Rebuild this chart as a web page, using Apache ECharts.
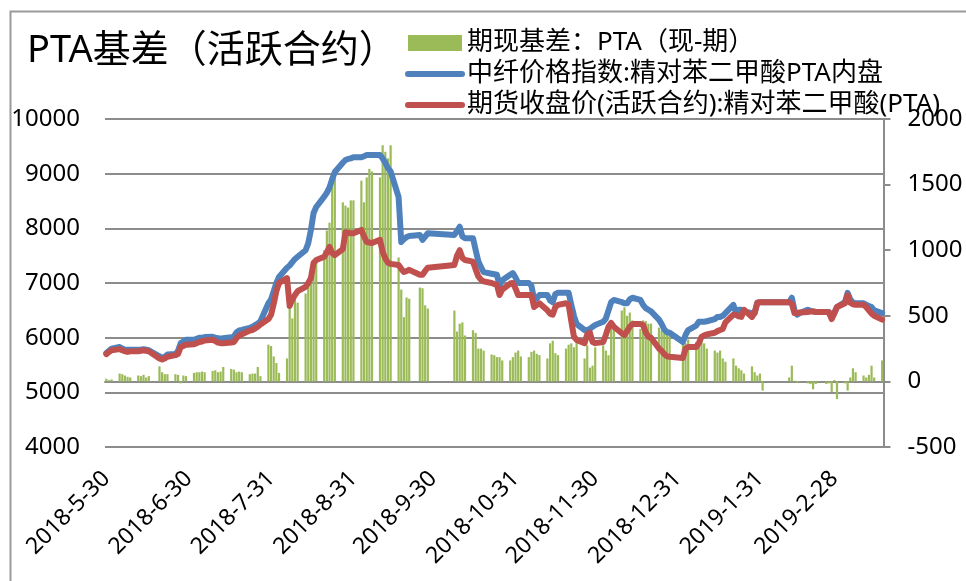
<!DOCTYPE html>
<html>
<head>
<meta charset="utf-8">
<script src="https://cdn.jsdelivr.net/npm/echarts@6/dist/echarts.min.js"></script>
<style>
html,body{margin:0;padding:0;background:#fff;}
#c{width:966px;height:581px;}
</style>
</head>
<body>
<div id="c"></div>
<script>
// ---- data ----
const tradeDates = [
'2018-5-30','2018-5-31','2018-6-1',
'2018-6-4','2018-6-5','2018-6-6','2018-6-7','2018-6-8',
'2018-6-11','2018-6-12','2018-6-13','2018-6-14','2018-6-15',
'2018-6-19','2018-6-20','2018-6-21','2018-6-22',
'2018-6-25','2018-6-26','2018-6-27','2018-6-28','2018-6-29',
'2018-7-2','2018-7-3','2018-7-4','2018-7-5','2018-7-6',
'2018-7-9','2018-7-10','2018-7-11','2018-7-12','2018-7-13',
'2018-7-16','2018-7-17','2018-7-18','2018-7-19','2018-7-20',
'2018-7-23','2018-7-24','2018-7-25','2018-7-26','2018-7-27',
'2018-7-30','2018-7-31','2018-8-1','2018-8-2','2018-8-3',
'2018-8-6','2018-8-7','2018-8-8','2018-8-9','2018-8-10',
'2018-8-13','2018-8-14','2018-8-15','2018-8-16','2018-8-17',
'2018-8-20','2018-8-21','2018-8-22','2018-8-23','2018-8-24',
'2018-8-27','2018-8-28','2018-8-29','2018-8-30','2018-8-31',
'2018-9-3','2018-9-4','2018-9-5','2018-9-6','2018-9-7',
'2018-9-10','2018-9-11','2018-9-12','2018-9-13','2018-9-14',
'2018-9-17','2018-9-18','2018-9-19','2018-9-20','2018-9-21',
'2018-9-25','2018-9-26','2018-9-27','2018-9-28',
'2018-10-8','2018-10-9','2018-10-10','2018-10-11','2018-10-12',
'2018-10-15','2018-10-16','2018-10-17','2018-10-18','2018-10-19',
'2018-10-22','2018-10-23','2018-10-24','2018-10-25','2018-10-26',
'2018-10-29','2018-10-30','2018-10-31','2018-11-1','2018-11-2',
'2018-11-5','2018-11-6','2018-11-7','2018-11-8','2018-11-9',
'2018-11-12','2018-11-13','2018-11-14','2018-11-15','2018-11-16',
'2018-11-19','2018-11-20','2018-11-21','2018-11-22','2018-11-23',
'2018-11-26','2018-11-27','2018-11-28','2018-11-29','2018-11-30',
'2018-12-3','2018-12-4','2018-12-5','2018-12-6','2018-12-7',
'2018-12-10','2018-12-11','2018-12-12','2018-12-13','2018-12-14',
'2018-12-17','2018-12-18','2018-12-19','2018-12-20','2018-12-21',
'2018-12-24','2018-12-25','2018-12-26','2018-12-27','2018-12-28',
'2019-1-2','2019-1-3','2019-1-4',
'2019-1-7','2019-1-8','2019-1-9','2019-1-10','2019-1-11',
'2019-1-14','2019-1-15','2019-1-16','2019-1-17','2019-1-18',
'2019-1-21','2019-1-22','2019-1-23','2019-1-24','2019-1-25',
'2019-1-28','2019-1-29','2019-1-30','2019-1-31','2019-2-1',
'2019-2-11','2019-2-12','2019-2-13','2019-2-14','2019-2-15',
'2019-2-18','2019-2-19','2019-2-20','2019-2-21','2019-2-22',
'2019-2-25','2019-2-26','2019-2-27','2019-2-28','2019-3-1',
'2019-3-4','2019-3-5','2019-3-6','2019-3-7','2019-3-8',
'2019-3-11','2019-3-12','2019-3-13','2019-3-14','2019-3-15',
'2019-3-18'
];

// 中纤价格指数:精对苯二甲酸PTA内盘 (left axis)
const spotIndex = [
5720,5760,5800,
5830,5800,5780,5780,5780,
5780,5780,5790,5780,5770,
5660,5630,5650,5690,
5700,5760,5900,5930,5960,
5960,5980,6000,6000,6010,
6015,6000,5990,5980,5990,
6010,6020,6100,6130,6140,
6180,6200,6230,6260,6300,
6630,6700,6850,7000,7110,
7280,7320,7380,7440,7480,
7600,7730,7970,8280,8390,
8580,8650,8750,8900,9030,
9200,9250,9270,9280,9300,
9300,9320,9340,9340,9340,
9340,9280,9200,9100,9040,
8570,7750,7800,7840,7860,
7880,7790,7850,7910,
7880,7950,8030,7850,7820,
7820,7600,7400,7290,7200,
7170,7160,7150,6950,7050,
7150,7180,7100,7000,7000,
7000,6950,6700,6720,6780,
6780,6680,6650,6800,6820,
6820,6820,6600,6400,6250,
6140,6140,6160,6200,6230,
6290,6350,6500,6650,6690,
6650,6630,6630,6700,6730,
6690,6600,6540,6510,6480,
6330,6250,6150,6100,6090,
5920,6050,6140,
6220,6290,6290,6290,6300,
6340,6380,6380,6400,6450,
6600,6450,6510,6510,6480,
6450,6450,6640,6650,6650,
6650,6730,6500,6420,6450,
6510,6490,6480,6470,6470,
6470,6470,6360,6450,6560,
6650,6820,6700,6640,6630,
6630,6600,6580,6560,6500,
6450
];

// 期货收盘价(活跃合约):精对苯二甲酸(PTA) (left axis)
const futuresClose = [
5700,5740,5770,
5790,5770,5750,5740,5750,
5750,5760,5770,5760,5750,
5620,5600,5620,5650,
5680,5700,5830,5850,5870,
5880,5900,5920,5930,5950,
5960,5940,5910,5900,5900,
5910,5920,5990,6040,6060,
6130,6140,6170,6200,6240,
6340,6420,6620,6850,7000,
7090,6580,6700,6780,6850,
6930,7000,7090,7370,7420,
7480,7560,7660,7550,7510,
7620,7930,7920,7910,7910,
7970,7850,7750,7740,7730,
7790,7570,7450,7370,7350,
7330,7260,7200,7220,7240,
7150,7150,7220,7280,
7330,7500,7600,7460,7420,
7390,7250,7120,7060,7030,
7000,6980,6970,6780,6880,
6990,7000,6900,6780,6780,
6780,6780,6560,6600,6630,
6500,6440,6420,6560,6600,
6630,6600,6300,6015,5960,
5900,6060,6090,5920,5900,
5920,6050,6200,6270,6200,
6080,6050,6120,6200,6250,
6250,6230,6100,6015,6000,
5800,5760,5700,5660,5650,
5630,5800,5830,
5830,5900,6015,6040,6060,
6090,6120,6140,6160,6280,
6420,6420,6390,6380,6510,
6380,6450,6640,6650,6650,
6650,6620,6450,6450,6460,
6470,6480,6480,6470,6470,
6470,6460,6340,6450,6560,
6630,6780,6640,6610,6600,
6600,6560,6500,6440,6400,
6330
];

// 期现基差：PTA（现-期） (right axis)
const basis = [
20,10,15,
60,55,45,35,30,
45,40,50,30,40,
115,70,55,55,
55,50,-15,45,40,
65,70,70,75,70,
80,85,70,75,110,
95,90,70,75,70,
55,60,60,110,40,
280,270,190,140,65,
175,600,480,640,600,
670,720,790,870,930,
1000,1150,1210,1515,1555,
1365,1340,1325,1380,1380,
1530,1365,1555,1620,1600,
1555,1800,1750,1700,1800,
945,700,490,640,630,
715,710,580,555,
540,380,440,450,350,
390,370,250,250,235,
205,200,185,185,160,
160,185,220,235,190,
185,225,235,210,200,
175,290,310,215,200,
250,280,290,260,305,
175,275,105,120,260,
275,235,200,465,440,
540,565,500,525,465,
400,465,460,440,440,
410,390,400,390,350,
310,290,320,
300,310,320,290,250,
235,220,235,175,150,
175,120,100,85,60,
115,70,45,60,-70,
30,120,5,-10,-5,
-15,-20,-60,-20,-5,
-20,-15,-80,10,-135,
-15,-70,30,100,70,
45,30,50,120,30,
160
];

const xTickLabels = ['2018-5-30','2018-6-30','2018-7-31','2018-8-31','2018-9-30',
  '2018-10-31','2018-11-30','2018-12-31','2019-1-31','2019-2-28'];
const leftTicks = [4000, 10000, 1000];   // min, max, step
const rightTicks = [-500, 2000, 500];

const titleText = 'PTA基差（活跃合约）';
const seriesNames = ['期现基差：PTA（现-期）', '中纤价格指数:精对苯二甲酸PTA内盘', '期货收盘价(活跃合约):精对苯二甲酸(PTA)'];

// ---- build a daily (date-axis like) category list ----
function parseD(s){ const p = s.split('-').map(Number); return Date.UTC(p[0], p[1]-1, p[2]); }
function fmtD(t){ const d = new Date(t); return d.getUTCFullYear()+'-'+(d.getUTCMonth()+1)+'-'+d.getUTCDate(); }
const days = [];
for (let t = parseD(tradeDates[0]); t <= parseD(tradeDates[tradeDates.length-1]); t += 86400000) days.push(fmtD(t));
const pos = new Map(days.map((d,i)=>[d,i]));
const spotFull = days.map(()=>null), futFull = days.map(()=>null), basisFull = days.map(()=>null);
tradeDates.forEach((d,k)=>{ const i = pos.get(d); spotFull[i]=spotIndex[k]; futFull[i]=futuresClose[k]; basisFull[i]=basis[k]; });
const labelSet = new Set(xTickLabels);

const FONT = "'Noto Sans', 'Noto Sans CJK SC', sans-serif";
const chart = echarts.init(document.getElementById('c'), null, {renderer:'canvas'});
chart.setOption({
  animation: false,
  backgroundColor: '#fff',
  graphic: [{
    type: 'rect', left: 8, top: 9, z: -10, silent: true,
    shape: {x:0, y:0, width: 1000, height: 620},
    style: {fill: 'none', stroke: '#9a9a9a', lineWidth: 2}
  }],
  title: {
    text: titleText, left: 27, top: 32, padding: 0,
    textStyle: {fontFamily: FONT, fontSize: 38, fontWeight: 'normal', color: '#000'}
  },
  legend: {
    orient: 'vertical', left: 405, top: 27.5, padding: 0, itemGap: 0,
    itemWidth: 54, itemHeight: 16,
    textStyle: {fontFamily: FONT, fontSize: 26, color: '#000', lineHeight: 17, padding: [0, 0, 14, 0]},
    data: [
      {name: seriesNames[0], icon: 'rect'},
      {name: seriesNames[1], itemStyle: {color: 'rgba(0,0,0,0)', borderWidth: 0},
        lineStyle: {width: 6, cap: 'round', color: '#4F81BD'}},
      {name: seriesNames[2], itemStyle: {color: 'rgba(0,0,0,0)', borderWidth: 0},
        lineStyle: {width: 6, cap: 'round', color: '#C0504D'}}
    ]
  },
  grid: {left: 105, right: 82.5, top: 119, bottom: 134, containLabel: false},
  xAxis: {
    type: 'category', data: days, boundaryGap: true,
    axisLine: {show: true, lineStyle: {color: '#8c8c8c', width: 2}},
    axisTick: {show: false},
    axisLabel: {
      interval: (i, v) => labelSet.has(v), rotate: 45, margin: 28,
      fontFamily: FONT, fontSize: 23, color: '#000'
    },
    splitLine: {show: false}
  },
  yAxis: [{
    type: 'value', min: leftTicks[0], max: leftTicks[1], interval: leftTicks[2],
    axisLine: {show: false}, axisTick: {show: false},
    axisLabel: {margin: 25, fontFamily: FONT, fontSize: 24, color: '#000', formatter: v => String(v)},
    splitLine: {show: true, lineStyle: {color: '#8c8c8c', width: 2}}
  }, {
    type: 'value', position: 'right', min: rightTicks[0], max: rightTicks[1], interval: rightTicks[2],
    axisLine: {show: true, lineStyle: {color: '#8c8c8c', width: 2}},
    axisTick: {show: true, inside: false, length: 7, lineStyle: {color: '#8c8c8c', width: 2}},
    axisLabel: {margin: 24, fontFamily: FONT, fontSize: 24, color: '#000', formatter: v => String(v)},
    splitLine: {show: false}
  }],
  series: [{
    name: seriesNames[0], type: 'bar', yAxisIndex: 1, data: basisFull,
    barWidth: 2.2, itemStyle: {color: '#9BBB59'}, z: 1
  }, {
    name: seriesNames[1], type: 'line', yAxisIndex: 0, data: spotFull,
    connectNulls: true, symbol: 'none', showSymbol: false,
    lineStyle: {color: '#4F81BD', width: 6, cap: 'round', join: 'round'},
    itemStyle: {color: '#4F81BD'}, z: 2
  }, {
    name: seriesNames[2], type: 'line', yAxisIndex: 0, data: futFull,
    connectNulls: true, symbol: 'none', showSymbol: false,
    lineStyle: {color: '#C0504D', width: 6, cap: 'round', join: 'round'},
    itemStyle: {color: '#C0504D'}, z: 3
  }]
});
</script>
</body>
</html>
